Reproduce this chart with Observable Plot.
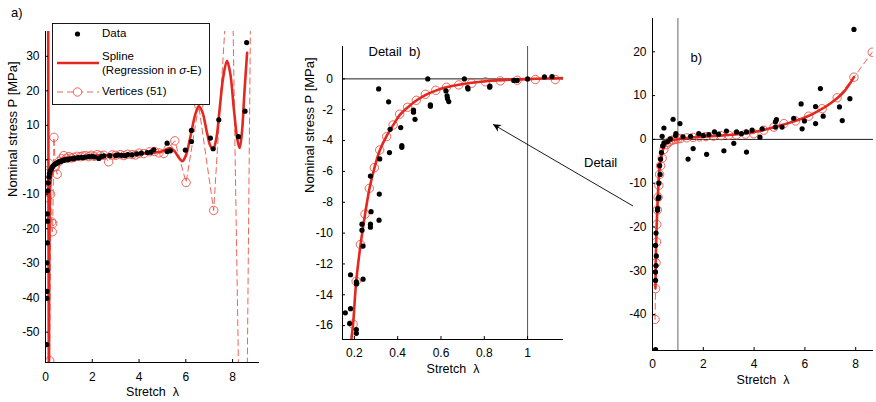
<!DOCTYPE html>
<html><head><meta charset="utf-8">
<script src="https://cdn.jsdelivr.net/npm/d3@7"></script>
<script src="https://cdn.jsdelivr.net/npm/@observablehq/plot@0.6"></script>
<style>
body{margin:0;background:#fff;}
#wrap{position:relative;width:876px;height:402px;font-family:"Liberation Sans",Arial,sans-serif;}
#wrap svg{position:absolute;left:0;top:0;}
</style></head><body><div id="wrap"></div>
<script>
const RED = "#e3281f", RED2 = "#ee5247";
const FONT = "Liberation Sans, Arial, sans-serif";

// ---------- Panel a ----------
const aDataLambda = [0.05,0.06,0.06,0.07,0.06,0.08,0.09,0.08,0.10,0.12,0.15,0.17,0.20,0.25,0.30,0.35,0.40,0.45,0.50,0.55,0.60,0.65,0.70,0.75,0.80,0.90,0.95,1.00,1.10,1.20,1.25,1.40,1.55,1.60,1.70,1.85,2.00,2.10,2.28,2.40,2.50,2.75,3.00,3.10,3.25,3.40,3.52,3.70,3.90,4.10,4.35,4.50,4.63,5.20,5.20,5.34,5.98,6.24,6.24,7.05,7.17,7.41,8.25,8.53,8.60];
const aDataStress = [-53.6,-40.2,-38.2,-32.1,-29.9,-24.1,-17.8,-15.7,-9.0,-6.7,-5.0,-4.0,-3.2,-2.6,-2.0,-1.6,-1.3,-1.1,-0.9,-0.7,-0.6,-0.5,-0.3,-0.2,-0.1,0.1,0.0,0.2,0.3,0.3,0.5,0.6,0.7,0.6,0.8,0.9,1.0,0.8,0.4,1.0,1.1,1.2,1.2,1.4,1.3,1.2,1.5,1.4,1.7,1.9,2.1,2.2,2.9,4.8,2.4,2.6,2.8,5.3,8.5,6.3,3.2,11.6,6.7,14.1,34.0];
const aSplineLambda = [0.10,0.115,0.13,0.145,0.16,0.18,0.20,0.25,0.30,0.40,0.50,0.70,1.0,1.5,2.0,2.5,3.0,3.5,4.0,4.5,5.0,5.3,5.5,5.7,5.85,6.0,6.2,6.4,6.55,6.7,6.9,7.05,7.17,7.3,7.45,7.6,7.76,7.9,8.05,8.2,8.3,8.4,8.5,8.62];
const aSplineStress = [60,38,-20,-62,-30,-14,-8,-4.5,-3,-1.6,-0.6,0.2,0.6,0.9,1.1,1.3,1.5,1.6,1.8,2.0,2.5,3.4,2.6,0.6,-0.4,1.2,6.8,13,15.5,14,8,4,3.1,6,15,24,28.7,25,15,6,3.4,8,19,31];
const aVertLambda = [0.04,0.07,0.10,0.14,0.18,0.22,0.26,0.29,0.31,0.36,0.42,0.50,0.58,0.68,0.78,0.90,1.00,1.10,1.21,1.35,1.50,1.60,1.71,1.85,1.95,2.08,2.21,2.35,2.50,2.70,2.85,3.00,3.20,3.35,3.50,3.70,3.85,4.00,4.20,4.45,4.66,4.85,5.06,5.25,5.53,6.01,6.55,7.19,7.95,8.49,8.85];
const aVertStress = [-6,-11,-4,-1,-58.3,-10,-18,-20.9,-18.5,6.5,-2,-4.2,-0.5,0.3,1.2,0.4,0.9,0.5,0.7,1.0,0.9,1.1,1.2,0.9,1.3,1.0,1.5,1.2,1.3,-0.6,1.4,1.3,1.5,1.2,1.6,1.5,1.4,1.9,1.8,2.3,2.4,2.0,1.8,3.2,5.5,-6.6,15.8,-14.7,69,-163,105];
const aXTicks = [0,2,4,6,8];
const aYTicks = [-50,-40,-30,-20,-10,0,10,20,30];

// ---------- Panel b (detail) ----------
const bDataLambda = [0.312,0.539,0.708,0.358,0.365,0.362,0.414,0.419,0.419,0.473,0.473,0.48,0.551,0.551,0.623,0.628,0.63,0.636,0.723,0.725,0.825,0.826,0.936,0.952,1.0,1.078,1.113,0.274,0.317,0.315,0.277,0.235,0.235,0.274,0.274,0.314,0.24,0.182,0.24,0.209,0.21,0.158,0.182,0.178,0.209,0.209];
const bDataStress = [-0.65,0,0,-1.49,-3.27,-4.78,-3.16,-4.33,-4.44,-2.03,-2.16,-2.62,-1.69,-1.77,-0.78,-1.1,-1.27,-1.47,-0.56,-0.65,-0.54,-0.46,-0.1,-0.1,0,0.13,0.15,-6.3,-5.19,-7.47,-8.61,-9.42,-9.81,-9.42,-9.62,-9.16,-10.84,-12.7,-12.99,-13.16,-13.3,-15.17,-14.9,-15.86,-16.25,-16.5];
const bSplineLambda = [0.18,0.186,0.194,0.208,0.228,0.249,0.269,0.292,0.317,0.349,0.379,0.409,0.446,0.486,0.528,0.576,0.625,0.682,0.742,0.805,0.874,0.952,1.036,1.128,1.166];
const bSplineStress = [-18.2,-16.9,-15.9,-13.2,-10.8,-8.8,-7.15,-5.8,-4.65,-3.7,-3.0,-2.35,-1.85,-1.4,-1.05,-0.76,-0.55,-0.38,-0.25,-0.15,-0.08,-0.03,0.01,0.04,0.05];
const bVertLambda = [0.175,0.194,0.208,0.228,0.249,0.269,0.292,0.317,0.349,0.379,0.409,0.446,0.486,0.528,0.576,0.625,0.682,0.742,0.805,0.874,0.952,1.036,1.128];
const bVertStress = [-19.4,-15.9,-13.12,-10.74,-8.77,-7.1,-5.76,-4.61,-3.74,-2.99,-2.29,-1.84,-1.39,-1.0,-0.74,-0.54,-0.39,-0.28,-0.19,-0.13,-0.09,-0.04,-0.04];
const bXTicks = [0.2,0.4,0.6,0.8,1];
const bYTicks = [-16,-14,-12,-10,-8,-6,-4,-2,0];

// ---------- Panel c ----------
const cDataLambda = [0.12,0.12,0.12,0.14,0.15,0.12,0.14,0.2,0.2,0.25,0.22,0.25,0.3,0.28,0.32,0.35,0.4,0.45,0.38,0.45,0.81,1.08,0.91,0.92,0.6,0.7,1.2,1.4,1.6,1.5,1.82,2.0,2.13,2.22,2.44,2.6,2.81,2.91,3.2,3.31,3.5,3.7,3.7,3.92,4.23,4.32,4.84,4.88,4.84,5.1,5.56,5.85,5.89,5.98,6.42,6.42,6.61,6.72,7.36,7.47,7.77,7.93];
const cDataStress = [-48,-32.2,-30.3,-28.8,-26.6,-24.2,-21.4,-16.2,-15.8,-13.2,-13.5,-10,-8,-6,-4.5,-3,-1.5,-0.8,0.7,2.6,4.6,3.6,0.9,1.3,-0.5,0.1,0.6,-4.5,-2.1,0.7,1.3,0.9,-3.4,1.1,1.7,1.2,-2.6,1.9,-0.9,1.7,1.3,-2.9,1.7,2.1,0.5,2.4,4.0,4.5,2.8,2.8,4.8,8.1,2.4,4.2,3.6,7.5,11.6,5.3,7.4,4.3,9.3,25.1];
const cSplineLambda = [0.115,0.13,0.15,0.17,0.19,0.208,0.228,0.249,0.269,0.292,0.317,0.349,0.379,0.409,0.446,0.486,0.528,0.576,0.625,0.7,0.8,1.0,1.5,2,2.5,3,3.5,4,4.5,5,5.5,6,6.5,7,7.5,7.93];
const cSplineStress = [-34,-27,-22,-18.7,-16,-13.2,-10.8,-8.8,-7.15,-5.8,-4.65,-3.7,-3.0,-2.35,-1.85,-1.4,-1.05,-0.76,-0.55,-0.33,-0.15,0.05,0.4,0.6,0.8,1.0,1.3,1.7,2.3,3.1,4.0,5.0,6.4,8.2,10.6,14.2];
const cVertLambda = [0.10,0.12,0.14,0.16,0.17,0.19,0.22,0.25,0.28,0.32,0.38,0.45,0.55,0.62,0.7,0.8,0.9,1.0,1.1,1.35,1.6,1.85,2.1,2.4,2.7,3.0,3.3,3.66,3.99,4.38,4.78,5.17,5.63,6.15,6.68,7.27,7.93,8.65];
const cVertStress = [-41.1,-34.1,-28.2,-23.4,-19.4,-16.1,-13.2,-10.5,-8,-6,-4.3,-2.3,-1.2,-0.7,-0.4,-0.15,0,0.1,0.2,0.35,0.45,0.55,0.65,0.75,0.85,0.95,1.05,1.2,1.3,2.1,2.8,3.6,4.2,5.3,7.0,9.5,14.2,19.9];
const cXTicks = [0,2,4,6,8];
const cYTicks = [-40,-30,-20,-10,0,10,20];

const yLabel = "Nominal stress P [MPa]";
const xLabel = "Stretch\u00a0\u00a0λ";

const zip = (L, P) => L.map((l, i) => ({l, p: P[i]}));
const fmt = d => String(d);

function panel({data, spline, verts, xDomain, yDomain, margins, xTicks, yTicks, xPad, yPad, extra, yLab}) {
  const [mt, mr, mb, ml] = margins;
  return Plot.plot({
    width: 876, height: 402,
    marginTop: mt, marginRight: mr, marginBottom: mb, marginLeft: ml,
    style: {background: "transparent", fontFamily: FONT, fontSize: "12px", overflow: "visible", color: "black"},
    x: {domain: xDomain},
    y: {domain: yDomain},
    marks: [
      ...(extra || []),
      Plot.line(verts, {x: "l", y: "p", stroke: RED2, strokeWidth: 0.9, strokeDasharray: "6,4", clip: true}),
      Plot.dot(verts, {x: "l", y: "p", r: 4.2, stroke: RED2, strokeWidth: 0.9, fill: "none", clip: true}),
      Plot.line(spline, {x: "l", y: "p", stroke: RED, strokeWidth: 2.6, curve: "catmull-rom", clip: true}),
      Plot.dot(data, {x: "l", y: "p", r: 2.6, fill: "black", clip: true}),
      Plot.ruleX([xDomain[0]], {stroke: "black", strokeWidth: 1}),
      Plot.ruleY([yDomain[0]], {stroke: "black", strokeWidth: 1}),
      Plot.axisX({ticks: xTicks, tickSize: -3, tickPadding: xPad, tickFormat: fmt, label: null}),
      Plot.axisY({ticks: yTicks, tickSize: -3, tickPadding: yPad, tickFormat: fmt, label: null}),
      ...(yLab ? [Plot.text([yLabel], {frameAnchor: "left", dx: -33, rotate: -90, fontSize: 13})] : []),
      Plot.text([xLabel], {frameAnchor: "bottom", dy: 33, fontSize: 12.5})
    ]
  });
}

const wrap = document.getElementById("wrap");

wrap.append(panel({
  data: zip(aDataLambda, aDataStress),
  spline: zip(aSplineLambda, aSplineStress),
  verts: zip(aVertLambda, aVertStress),
  xDomain: [0, 9.15], yDomain: [-58.8, 37.2],
  margins: [31, 617, 40, 45],
  xTicks: aXTicks, yTicks: aYTicks, xPad: 12.5, yPad: 9, yLab: true
}));

wrap.append(panel({
  data: zip(bDataLambda, bDataStress),
  spline: zip(bSplineLambda, bSplineStress),
  verts: zip(bVertLambda, bVertStress),
  xDomain: [0.145, 1.166], yDomain: [-16.9, 2.1],
  margins: [46, 313, 63, 342],
  xTicks: bXTicks, yTicks: bYTicks, xPad: 12, yPad: 12.5, yLab: true,
  extra: [
    Plot.ruleY([0], {stroke: "black", strokeWidth: 0.9}),
    Plot.ruleX([1], {stroke: "#555", strokeWidth: 1}),
    Plot.text(["Detail\u00a0\u00a0b)"], {frameAnchor: "top-left", dx: 26, textAnchor: "start", fontSize: 13})
  ]
}));

wrap.append(panel({
  data: zip(cDataLambda, cDataStress),
  spline: zip(cSplineLambda, cSplineStress),
  verts: zip(cVertLambda, cVertStress),
  xDomain: [0, 8.7], yDomain: [-48.2, 27.6],
  margins: [18, 3, 52, 652],
  xTicks: cXTicks, yTicks: cYTicks, xPad: 12, yPad: 9, yLab: false,
  extra: [
    Plot.ruleY([0], {stroke: "black", strokeWidth: 0.9}),
    Plot.ruleX([1], {stroke: "#666", strokeWidth: 1}),
    Plot.text(["b)"], {frameAnchor: "top-left", dx: 38, dy: 34, textAnchor: "start", fontSize: 13})
  ]
}));

// overlay: panel tag, legend, arrow annotation
const ov = d3.create("svg").attr("width", 876).attr("height", 402)
  .attr("font-family", FONT).attr("font-size", 11.5);
ov.append("text").attr("x", 11).attr("y", 14).attr("dominant-baseline", "middle").attr("font-size", 13).text("a)");
const lg = ov.append("g");
lg.append("rect").attr("x", 52.5).attr("y", 23.5).attr("width", 157).attr("height", 81).attr("fill", "white").attr("stroke", "black").attr("stroke-width", 0.9);
lg.append("circle").attr("cx", 77.5).attr("cy", 34).attr("r", 2.6).attr("fill", "black");
lg.append("text").attr("x", 102).attr("y", 34).attr("dominant-baseline", "middle").text("Data");
lg.append("line").attr("x1", 57).attr("x2", 99).attr("y1", 63).attr("y2", 63).attr("stroke", RED).attr("stroke-width", 2.6);
lg.append("text").attr("x", 102).attr("y", 57).attr("dominant-baseline", "middle").text("Spline");
const t2 = lg.append("text").attr("x", 102).attr("y", 71).attr("dominant-baseline", "middle");
t2.append("tspan").text("(Regression in ");
t2.append("tspan").attr("font-style", "italic").text("σ");
t2.append("tspan").text("-E)");
lg.append("line").attr("x1", 57).attr("x2", 99).attr("y1", 92).attr("y2", 92).attr("stroke", RED2).attr("stroke-width", 0.9).attr("stroke-dasharray", "6,4");
lg.append("circle").attr("cx", 77.5).attr("cy", 92).attr("r", 4.2).attr("fill", "white").attr("stroke", RED2).attr("stroke-width", 0.9);
lg.append("text").attr("x", 102).attr("y", 92).attr("dominant-baseline", "middle").text("Vertices (51)");
// arrow
const defs = ov.append("defs");
defs.append("marker").attr("id", "ah").attr("viewBox", "0 0 10 10").attr("refX", 10).attr("refY", 5)
  .attr("markerWidth", 11).attr("markerHeight", 8).attr("markerUnits", "userSpaceOnUse").attr("orient", "auto")
  .append("path").attr("d", "M0,0L10,5L0,10L3,5Z").attr("fill", "black");
ov.append("line").attr("x1", 633).attr("y1", 206).attr("x2", 493).attr("y2", 124.3)
  .attr("stroke", "black").attr("stroke-width", 0.9).attr("marker-end", "url(#ah)");
ov.append("text").attr("x", 584).attr("y", 164).attr("dominant-baseline", "middle").attr("font-size", 13).text("Detail");
wrap.append(ov.node());
</script></body></html>
